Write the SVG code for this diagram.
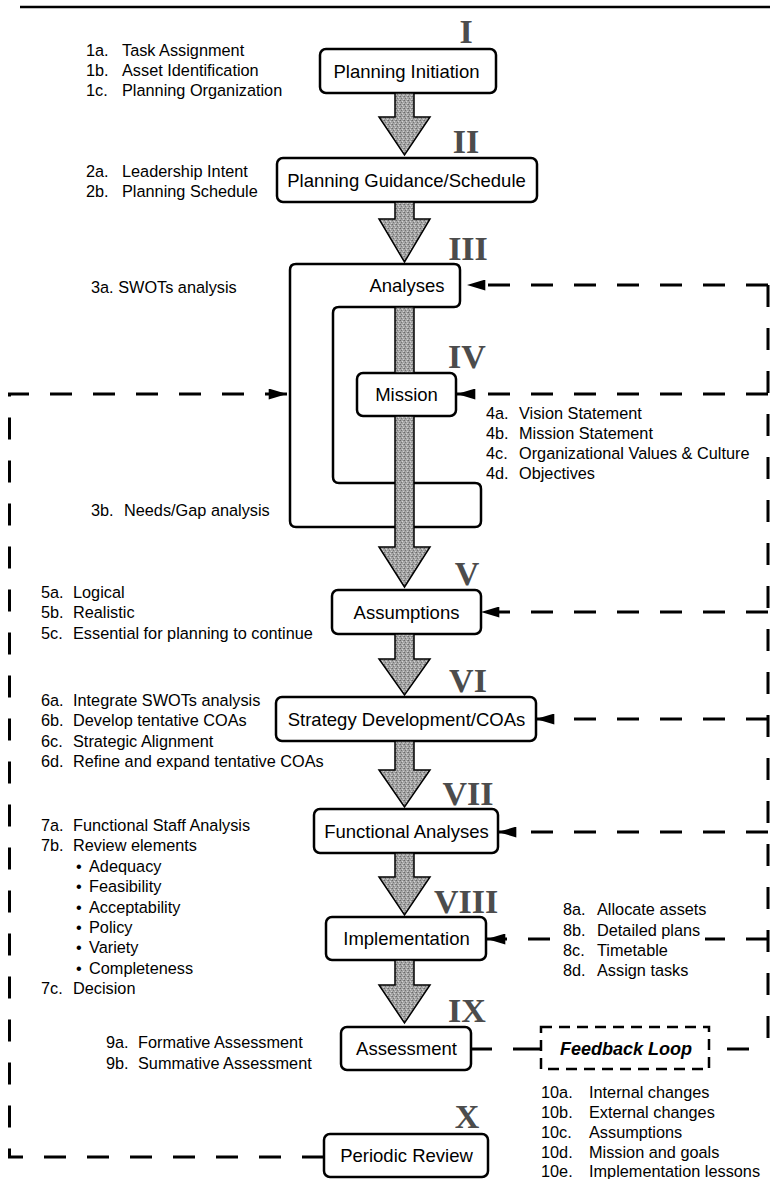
<svg xmlns="http://www.w3.org/2000/svg" width="770" height="1179" viewBox="0 0 770 1179">
<style>
.box{fill:#fff;stroke:#000;stroke-width:2.5}
.ttl{font-family:"Liberation Sans",Arial,sans-serif;font-size:18.5px;text-anchor:middle;fill:#000}
.lst{font-family:"Liberation Sans",Arial,sans-serif;font-size:16.3px;fill:#000}
.rn{font-family:"Liberation Serif","Times New Roman",serif;font-weight:bold;font-size:34px;text-anchor:middle;fill:#4c4c4c}
.big{fill:url(#tex);stroke:#000;stroke-width:1.5;stroke-linejoin:miter}
.dash{fill:none;stroke:#000;stroke-width:3;stroke-dasharray:22 21}
.solid{fill:none;stroke:#000;stroke-width:3}
.fb{fill:#fff;stroke:#000;stroke-width:2.5;stroke-dasharray:11 7}
.fbt{font-family:"Liberation Sans",Arial,sans-serif;font-size:18px;font-weight:bold;font-style:italic;text-anchor:middle;fill:#000}
</style>
<defs>
<pattern id="tex" width="4" height="4" patternUnits="userSpaceOnUse">
<rect width="4" height="4" fill="#a4a4a4"/>
<rect x="0" y="0" width="1" height="1" fill="#6a6a6a"/>
<rect x="2" y="1" width="1" height="1" fill="#d2d2d2"/>
<rect x="1" y="2" width="1" height="1" fill="#747474"/>
<rect x="3" y="3" width="1" height="1" fill="#cfcfcf"/>
<rect x="3" y="0" width="1" height="1" fill="#888"/>
</pattern>
<marker id="ah" viewBox="0 0 20 12" refX="20" refY="6" markerWidth="19" markerHeight="11" markerUnits="userSpaceOnUse" orient="auto">
<path d="M0 0 L20 6 L0 12 Z" fill="#000"/>
</marker>
</defs>
<rect width="770" height="1179" fill="#fff"/>
<line x1="20" y1="7" x2="770" y2="7" stroke="#000" stroke-width="2.5"/>

<g id="connectors">
<path class="dash" d="M 324 1157 H 9.5 V 394 H 287" marker-end="url(#ah)"/>
<path class="dash" d="M 768 285 V 1049"/>
<path class="dash" d="M 709 1049 H 768" style="stroke-dashoffset:25"/>
<path class="solid" d="M 471 1049 H 492 M 513 1049 H 541"/>
<path class="dash" d="M 768 285 H 467" marker-end="url(#ah)"/>
<path class="dash" d="M 768 394 H 457" marker-end="url(#ah)"/>
<path class="dash" d="M 768 612 H 481" marker-end="url(#ah)"/>
<path class="dash" d="M 768 719 H 536" marker-end="url(#ah)"/>
<path class="dash" d="M 768 832 H 498" marker-end="url(#ah)"/>
<path class="dash" d="M 768 939 H 705"/>
<path class="dash" d="M 550 939 H 487" marker-end="url(#ah)"/>
</g>

<g id="n1">
<rect class="box" x="320" y="49" width="176" height="44" rx="6"/>
<text class="ttl" x="406.5" y="77.5">Planning Initiation</text>
<text class="rn" x="466" y="43">I</text>
<text class="lst" x="86" y="55.5">1a.</text><text class="lst" x="122" y="55.5">Task Assignment</text>
<text class="lst" x="86" y="75.5">1b.</text><text class="lst" x="122" y="75.5">Asset Identification</text>
<text class="lst" x="86" y="95.5">1c.</text><text class="lst" x="122" y="95.5">Planning Organization</text>
</g>

<g id="n2">
<rect class="box" x="277" y="158" width="260" height="44" rx="6"/>
<text class="ttl" x="406.5" y="186.5">Planning Guidance/Schedule</text>
<text class="rn" x="466" y="153">II</text>
<text class="lst" x="86" y="176.5">2a.</text><text class="lst" x="122" y="176.5">Leadership Intent</text>
<text class="lst" x="86" y="196.5">2b.</text><text class="lst" x="122" y="196.5">Planning Schedule</text>
</g>

<g id="n3">
<path class="box" d="M 296 264 H 454 Q 460 264 460 270 V 301 Q 460 307 454 307 H 339 Q 333 307 333 313 V 477 Q 333 483 339 483 H 475 Q 481 483 481 489 V 521 Q 481 527 475 527 H 296 Q 290 527 290 521 V 270 Q 290 264 296 264 Z"/>
<text class="ttl" x="407" y="292">Analyses</text>
<text class="rn" x="468" y="260">III</text>
<text class="lst" x="91" y="292.5">3a. SWOTs analysis</text>
<text class="lst" x="91" y="515.5">3b.</text><text class="lst" x="124" y="515.5">Needs/Gap analysis</text>
</g>

<g id="n4">
<rect class="box" x="357" y="373" width="99" height="43" rx="6"/>
<text class="ttl" x="406.5" y="401">Mission</text>
<text class="rn" x="467" y="368">IV</text>
<text class="lst" x="486" y="418.5">4a.</text><text class="lst" x="519" y="418.5">Vision Statement</text>
<text class="lst" x="486" y="438.5">4b.</text><text class="lst" x="519" y="438.5">Mission Statement</text>
<text class="lst" x="486" y="458.5">4c.</text><text class="lst" x="519" y="458.5">Organizational Values &amp; Culture</text>
<text class="lst" x="486" y="478.5">4d.</text><text class="lst" x="519" y="478.5">Objectives</text>
</g>

<g id="n5">
<rect class="box" x="332" y="590" width="149" height="44" rx="6"/>
<text class="ttl" x="406.5" y="618.5">Assumptions</text>
<text class="rn" x="467" y="585">V</text>
<text class="lst" x="41" y="597.5">5a.</text><text class="lst" x="73" y="597.5">Logical</text>
<text class="lst" x="41" y="617.5">5b.</text><text class="lst" x="73" y="617.5">Realistic</text>
<text class="lst" x="41" y="638.5">5c.</text><text class="lst" x="73" y="638.5">Essential for planning to continue</text>
</g>

<g id="n6">
<rect class="box" x="276" y="697" width="260" height="44" rx="6"/>
<text class="ttl" x="406.5" y="725.5">Strategy Development/COAs</text>
<text class="rn" x="468" y="692">VI</text>
<text class="lst" x="41" y="705.5">6a.</text><text class="lst" x="73" y="705.5">Integrate SWOTs analysis</text>
<text class="lst" x="41" y="725.5">6b.</text><text class="lst" x="73" y="725.5">Develop tentative COAs</text>
<text class="lst" x="41" y="746.5">6c.</text><text class="lst" x="73" y="746.5">Strategic Alignment</text>
<text class="lst" x="41" y="766.5">6d.</text><text class="lst" x="73" y="766.5">Refine and expand tentative COAs</text>
</g>

<g id="n7">
<rect class="box" x="314" y="809" width="184" height="44" rx="6"/>
<text class="ttl" x="406.5" y="837.5">Functional Analyses</text>
<text class="rn" x="468" y="805">VII</text>
<text class="lst" x="41" y="830.5">7a.</text><text class="lst" x="73" y="830.5">Functional Staff Analysis</text>
<text class="lst" x="41" y="850.5">7b.</text><text class="lst" x="73" y="850.5">Review elements</text>
<text class="lst" x="76" y="871.5">•</text><text class="lst" x="89" y="871.5">Adequacy</text>
<text class="lst" x="76" y="891.5">•</text><text class="lst" x="89" y="891.5">Feasibility</text>
<text class="lst" x="76" y="912.5">•</text><text class="lst" x="89" y="912.5">Acceptability</text>
<text class="lst" x="76" y="932.5">•</text><text class="lst" x="89" y="932.5">Policy</text>
<text class="lst" x="76" y="952.5">•</text><text class="lst" x="89" y="952.5">Variety</text>
<text class="lst" x="76" y="973.5">•</text><text class="lst" x="89" y="973.5">Completeness</text>
<text class="lst" x="41" y="993.5">7c.</text><text class="lst" x="73" y="993.5">Decision</text>
</g>

<g id="n8">
<rect class="box" x="326" y="917" width="160" height="43" rx="6"/>
<text class="ttl" x="406.5" y="945">Implementation</text>
<text class="rn" x="466" y="913">VIII</text>
<text class="lst" x="563" y="914.5">8a.</text><text class="lst" x="597" y="914.5">Allocate assets</text>
<text class="lst" x="563" y="935.5">8b.</text><text class="lst" x="597" y="935.5">Detailed plans</text>
<text class="lst" x="563" y="955.5">8c.</text><text class="lst" x="597" y="955.5">Timetable</text>
<text class="lst" x="563" y="975.5">8d.</text><text class="lst" x="597" y="975.5">Assign tasks</text>
</g>

<g id="n9">
<rect class="box" x="341" y="1027" width="130" height="43" rx="6"/>
<text class="ttl" x="406.5" y="1055">Assessment</text>
<text class="rn" x="467" y="1022">IX</text>
<text class="lst" x="106" y="1047.5">9a.</text><text class="lst" x="138" y="1047.5">Formative Assessment</text>
<text class="lst" x="106" y="1068.5">9b.</text><text class="lst" x="138" y="1068.5">Summative Assessment</text>
</g>

<g id="feedback">
<rect class="fb" x="541" y="1027" width="168" height="42"/>
<text class="fbt" x="626" y="1055">Feedback Loop</text>
<text class="lst" x="541" y="1097.5">10a.</text><text class="lst" x="589" y="1097.5">Internal changes</text>
<text class="lst" x="541" y="1117.5">10b.</text><text class="lst" x="589" y="1117.5">External changes</text>
<text class="lst" x="541" y="1137.5">10c.</text><text class="lst" x="589" y="1137.5">Assumptions</text>
<text class="lst" x="541" y="1157.5">10d.</text><text class="lst" x="589" y="1157.5">Mission and goals</text>
<text class="lst" x="541" y="1176.5">10e.</text><text class="lst" x="589" y="1176.5">Implementation lessons</text>
</g>

<g id="n10">
<rect class="box" x="324" y="1134" width="164" height="43" rx="6"/>
<text class="ttl" x="406.5" y="1162">Periodic Review</text>
<text class="rn" x="467" y="1128">X</text>
</g>

<g id="flow-arrows">
<polygon class="big" points="395,93 414,93 414,117 430,117 404.5,155 379,117 395,117"/>
<polygon class="big" points="395,202 414,202 414,219 430,219 404.5,262 379,219 395,219"/>
<polygon class="big" points="395,307 414,307 414,373 395,373"/>
<polygon class="big" points="395,416 414,416 414,547 430,547 404.5,587 379,547 395,547"/>
<polygon class="big" points="395,634 414,634 414,659 430,659 404.5,695 379,659 395,659"/>
<polygon class="big" points="395,741 414,741 414,770 430,770 404.5,807 379,770 395,770"/>
<polygon class="big" points="395,853 414,853 414,877 430,877 404.5,915 379,877 395,877"/>
<polygon class="big" points="395,960 414,960 414,985 430,985 404.5,1023 379,985 395,985"/>
</g>
</svg>
